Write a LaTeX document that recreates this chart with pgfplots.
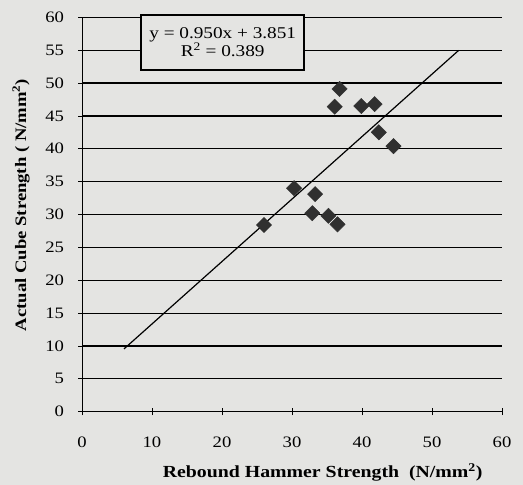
\documentclass[border=0pt]{standalone}
\usepackage{pgfplots}
\pgfplotsset{compat=1.18}
\usepackage{fontspec}
\setmainfont{Liberation Serif}
\newfontfamily\labfont[FakeStretch=1.17]{Liberation Serif}
\definecolor{paper}{RGB}{228,228,226}
\definecolor{mk}{RGB}{48,48,48}
\begin{document}
\begin{tikzpicture}
\fill[paper] (-82bp,-73.3bp) rectangle (441bp,411.7bp);
\begin{axis}[
  scale only axis, width=420bp, height=394.4bp,
  xmin=0, xmax=60, ymin=0, ymax=60,
  axis lines=left, axis line style={-, line width=0.9bp},
  xtick={0,10,...,60}, ytick={0,5,...,60},
  tick align=center, major tick length=7bp,
  tick style={black, line width=0.8bp},
  ymajorgrids, grid style={black, line width=1.2bp},
  tick label style={font=\labfont\fontsize{16}{18}\selectfont},
  /pgf/number format/assume math mode=true,
  xticklabel style={yshift=-18bp},
  yticklabel style={xshift=-11bp},
  xlabel={\bfseries Rebound Hammer Strength~~(N/mm\textsuperscript{2})},
  ylabel={\bfseries Actual Cube Strength ( N/mm\textsuperscript{2})},
  xlabel style={font=\labfont\fontsize{17}{19}\selectfont, at={(rel axis cs:0.573,0)}, anchor=center, yshift=-61bp},
  ylabel style={font=\labfont\fontsize{16}{18}\selectfont, at={(rel axis cs:0,0.524)}, anchor=center, yshift=61bp},
  clip=false,
]
\addplot[black, line width=1.2bp] coordinates {(6,9.55) (53.8,54.96)};
\addplot[only marks, mark=square*, mark size=5.4bp, mark options={rotate=45, fill=mk, draw=mk}] coordinates {
(26.0,28.4) (30.3,34.0) (32.9,30.2) (33.3,33.1) (35.2,29.8) (36.5,28.5)
(36.1,46.4) (36.8,49.1) (39.9,46.5) (41.8,46.8) (42.4,42.5) (44.5,40.4)};
\node[draw=black, line width=1.6bp, fill=paper, minimum width=163bp, minimum height=55bp, align=center,
  font=\labfont\fontsize{16.5}{17}\selectfont, inner sep=2bp] at (axis cs:20.1,56.2)
  {y = 0.950x + 3.851\\R\textsuperscript{2} = 0.389};
\end{axis}
\pgfresetboundingbox
\path[use as bounding box] (-82bp,-73.3bp) rectangle (441bp,411.7bp);
\end{tikzpicture}
\end{document}
